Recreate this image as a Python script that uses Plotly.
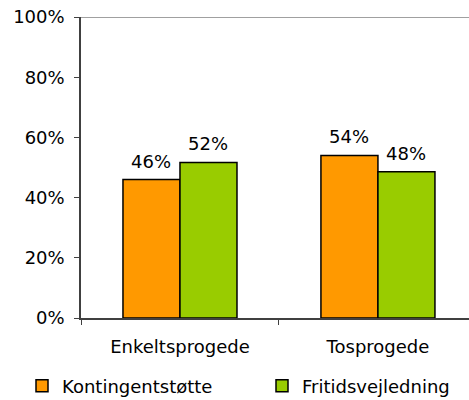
import plotly.graph_objects as go

categories = ["Enkeltsprogede", "Tosprogede"]
series_names = ["Kontingentstøtte", "Fritidsvejledning"]
kontingent = [0.46, 0.54]
fritid = [0.517, 0.486]
kontingent_labels = ["46%", "54%"]
fritid_labels = ["52%", "48%"]
y_ticks = [0, 0.2, 0.4, 0.6, 0.8, 1.0]

colors = ["#FF9900", "#99CC00"]
FONT = "DejaVu Sans"
FS = 18

fig = go.Figure()
for i, (name, vals, col) in enumerate(zip(series_names, [kontingent, fritid], colors)):
    fig.add_trace(go.Bar(
        x=categories, y=vals, name=name,
        marker=dict(color=col, line=dict(color="#000000", width=1.5)),
        hoverinfo="skip",
        legend="legend" if i == 0 else "legend2",
    ))

# value labels above bars
annotations = []
for vals, labels, shift in [(kontingent, kontingent_labels, -28.5), (fritid, fritid_labels, 28.5)]:
    for c, v, t in zip(categories, vals, labels):
        annotations.append(dict(
            x=c, y=v, xref="x", yref="y", text=t, showarrow=False,
            xshift=shift, yanchor="bottom", yshift=6,
            font=dict(family=FONT, size=FS, color="#000000"),
        ))

leg_common = dict(
    orientation="h", xref="container", yref="container",
    xanchor="left", yanchor="middle",
    font=dict(family=FONT, size=FS, color="#000000"),
    bgcolor="rgba(0,0,0,0)",
)

fig.update_layout(
    width=469, height=400,
    margin=dict(l=81, r=0, t=17, b=82, autoexpand=False),
    paper_bgcolor="white", plot_bgcolor="white",
    font=dict(family=FONT, size=FS, color="#000000"),
    barmode="group", bargap=0.424, bargroupgap=0,
    showlegend=True,
    legend=dict(x=22 / 469, y=14 / 400, **leg_common),
    legend2=dict(x=262 / 469, y=14 / 400, **leg_common),
    annotations=annotations,
    shapes=[dict(type="line", xref="paper", yref="y", x0=0, x1=1, y0=1, y1=1,
                 line=dict(color="#808080", width=1.5))],
)

fig.update_xaxes(
    range=[-0.5, 1.46], showline=True, linecolor="#404040", linewidth=1.5,
    ticks="outside", tickson="boundaries", ticklen=5, tickcolor="#404040",
    showgrid=False, ticklabelstandoff=12, automargin=False,
    tickfont=dict(family=FONT, size=FS, color="#000000"),
)
fig.update_yaxes(
    range=[0, 1], tickvals=y_ticks, tickformat=".0%",
    showline=True, linecolor="#404040", linewidth=1.5,
    ticks="outside", ticklen=5, tickcolor="#404040",
    showgrid=False, zeroline=False, ticklabelstandoff=6, automargin=False,
    tickfont=dict(family=FONT, size=FS, color="#000000"),
)

fig.write_html("out.html", config={"displayModeBar": False},
               post_script="document.body.style.margin='0';")
